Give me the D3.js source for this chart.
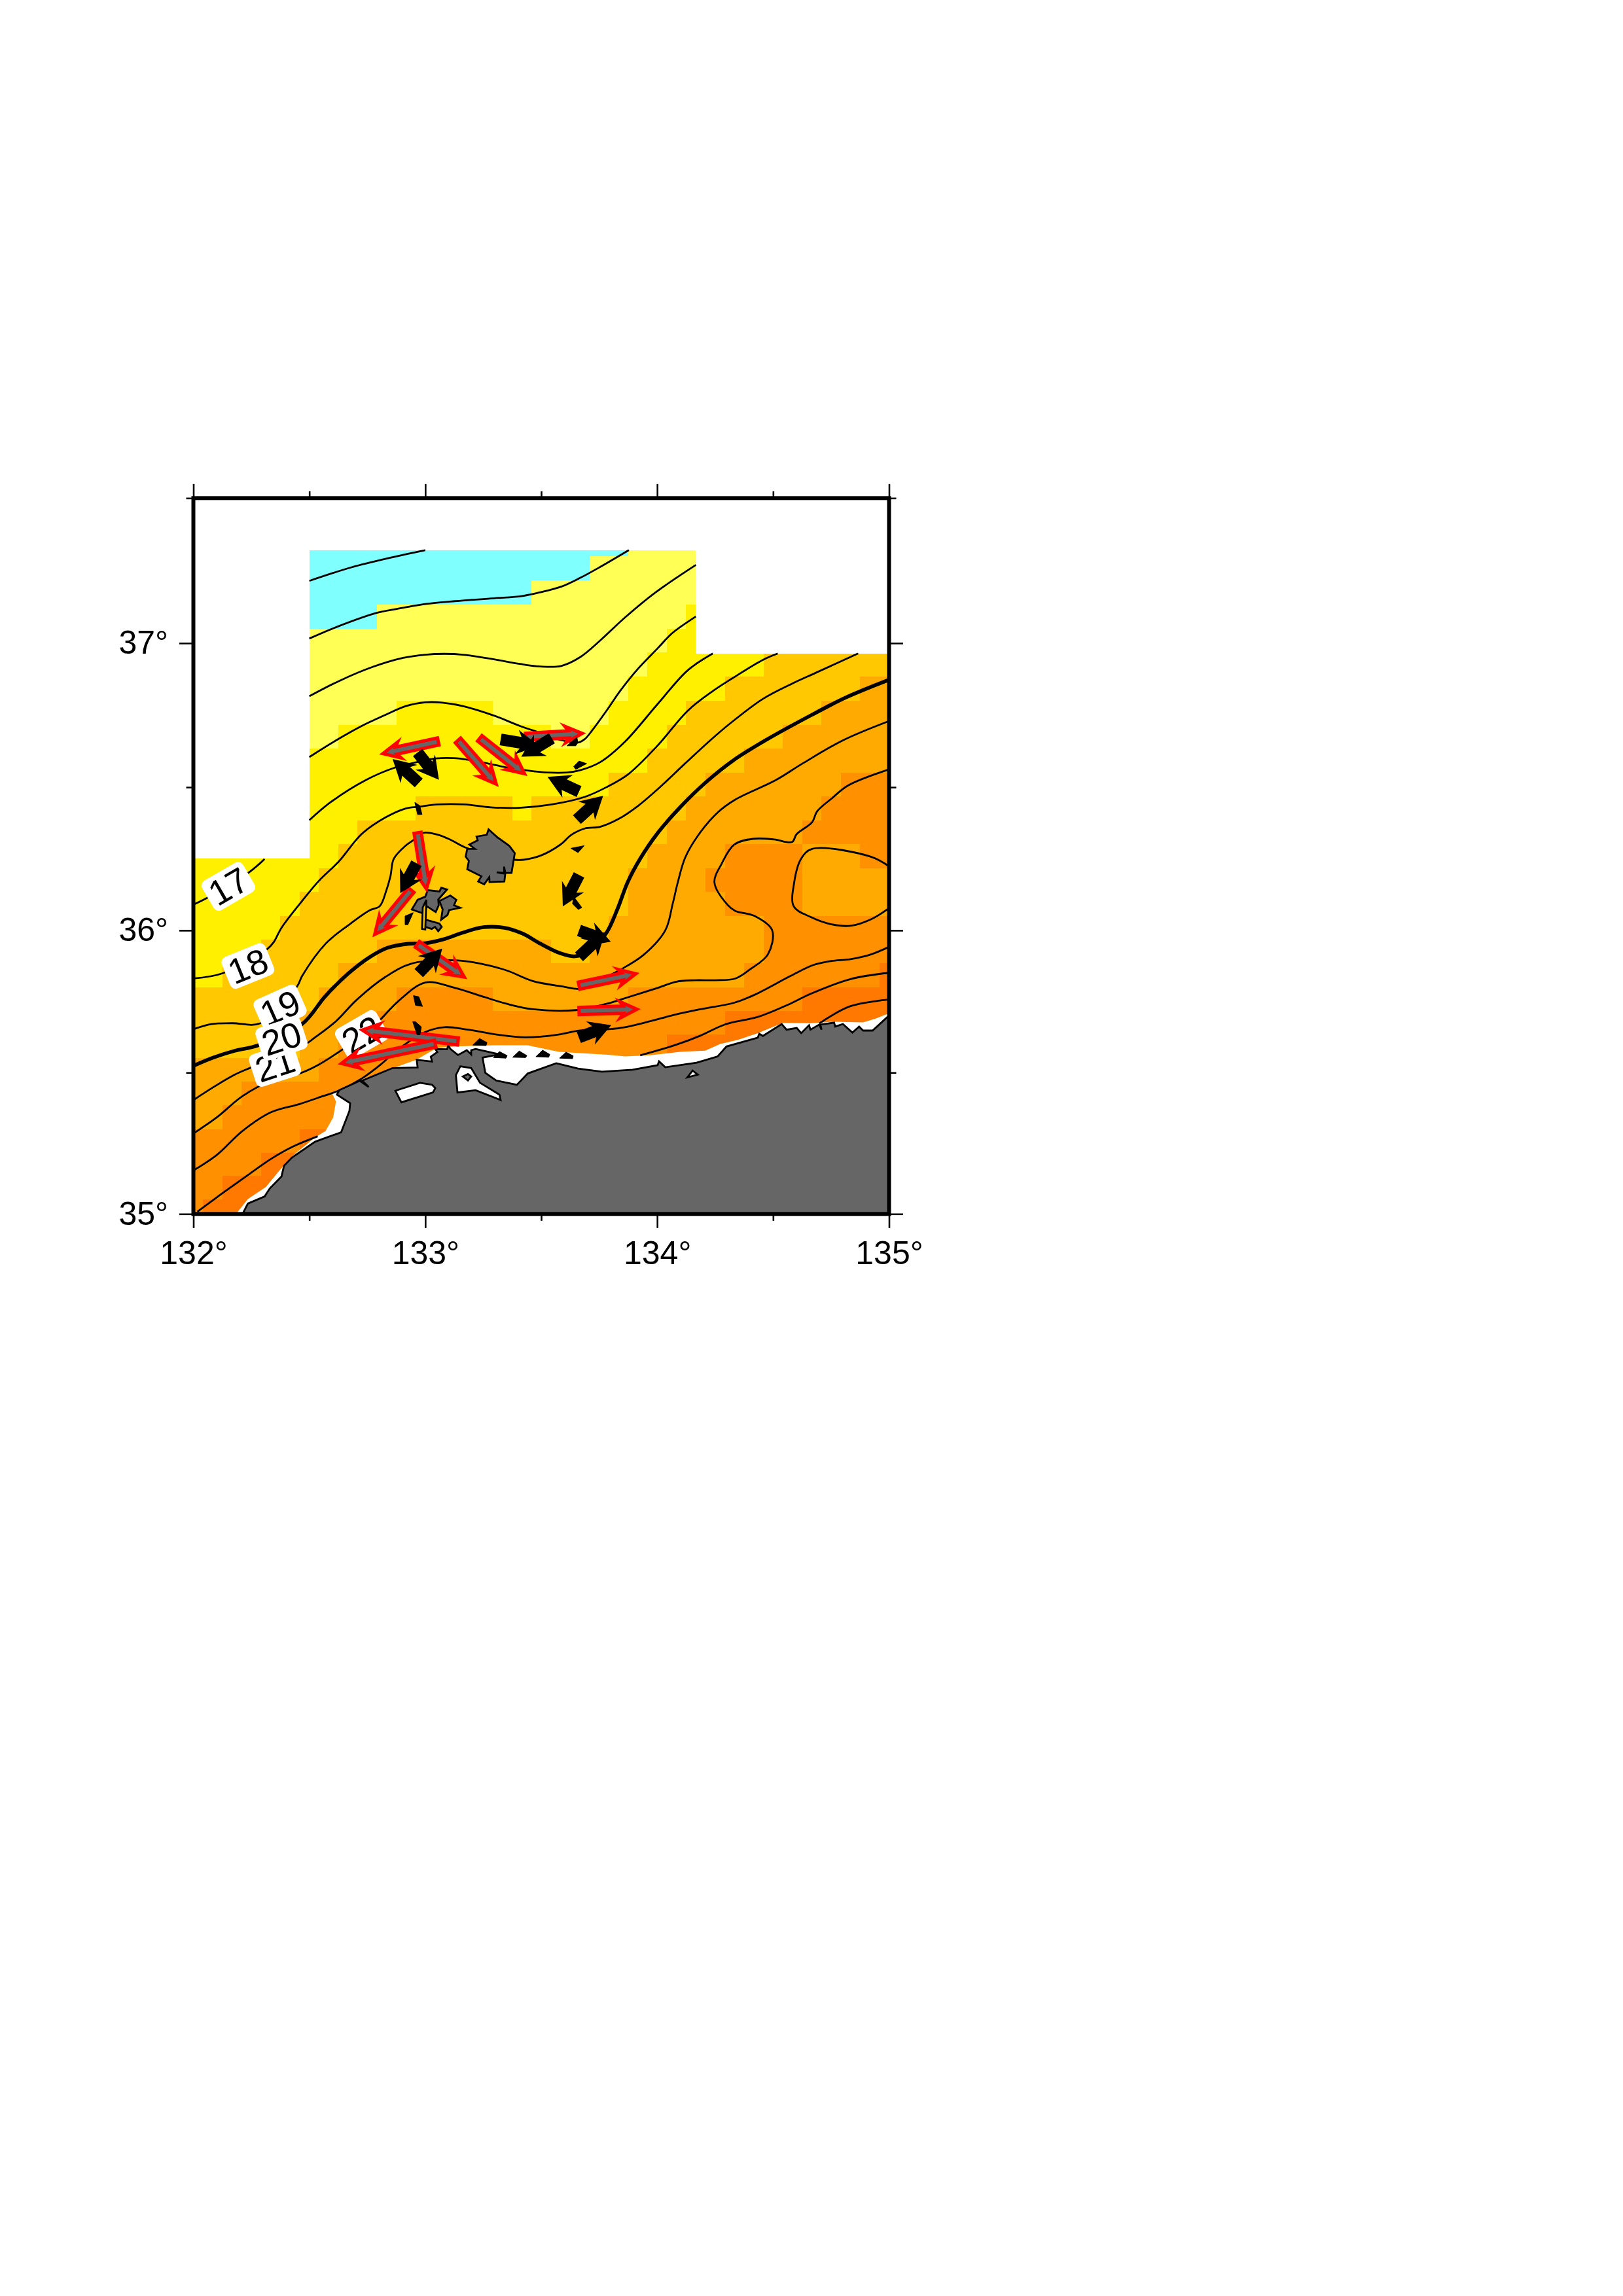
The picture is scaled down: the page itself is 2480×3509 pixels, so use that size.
<!DOCTYPE html>
<html><head><meta charset="utf-8">
<script src="https://cdn.jsdelivr.net/npm/d3@7"></script>
<style>html,body{margin:0;padding:0;background:#fff}svg{display:block}text{font-family:"Liberation Sans",Arial,sans-serif}</style>
</head><body><div id="chart"></div>
<script>
// ---- axis ticks
const lonMajor=[132,133,134,135], lonMinor=[132.5,133.5,134.5];
const latMajor=[35,36,37], latMinor=[35.5,36.5,37.5];
const degLabel=d=>d+"°";

// ---- temperature class colours and 1/12 degree grid (run-length, row 28 at north, row 0 at south)
const classColors={c:"#80FFFF",a:"#FFFF55",b:"#FFF000",d:"#FFC800",e:"#FFAA00",f:"#FF9000",g:"#FF7800",".":"#FFFFFF"};
const gridRows=[
".6c17a14",".6c15a16",".6c12a19",".6c4a16b11",".6a19b12",".6a18b6d7",".6a17b5d7e2",
".6a5b5a6b4d7e4",".6a2b11a2b4d6e6",".6b18d5e8",".6b16d5e7f3",".6b6d5b1d8e7f4",".6b3d16e7f5",
"b8d16e4f4e3f2","b7d16e4f5e5","b6d17e5f4e5","b5d17e8f7","b4d6e9d2e9f7","b2d6e21f7g1",
"d7e4f5e7f9g5","d6e4f18g9","d6e2f17g12","e7f18g12","e3f34","e2f35","f6g31","f4g33","f2g35","f1g36"];

// ---- areas without data
const noData=[[132,36.251,132.5,37.6],[132.5,37.321,135.1,37.6],[134.167,36.964,135.1,37.6]];
const coastMask=[[132.184,35],[132.235,35.053],[132.313,35.096],[132.369,35.152],[132.425,35.204],[132.525,35.271],[132.57,35.294],[132.603,35.342],[132.615,35.398],[132.598,35.427],[132.626,35.436],[132.726,35.476],[132.849,35.512],[132.961,35.545],[133.05,35.587],[133.128,35.592],[133.296,35.596],[133.441,35.596],[133.575,35.573],[133.646,35.57],[133.786,35.563],[133.862,35.557],[133.97,35.561],[134.099,35.573],[134.207,35.577],[134.272,35.601],[134.348,35.615],[134.434,35.639],[134.542,35.675],[134.661,35.674],[134.758,35.679],[134.888,35.677],[134.942,35.69],[134.992,35.706],[135.1,35.72],[135.1,34.9],[132.184,34.9]];

// ---- contours
const c13=[[132.5,37.215],[132.682,37.262],[132.849,37.295],[133,37.321]];
const c14=[[132.5,37.016],[132.615,37.055],[132.793,37.105],[132.905,37.122],[133,37.135],[133.128,37.145],[133.296,37.155],[133.419,37.163],[133.497,37.176],[133.586,37.195],[133.667,37.225],[133.754,37.263],[133.878,37.321]];
const c15=[[132.5,36.816],[132.626,36.868],[132.771,36.917],[132.905,36.949],[133,36.96],[133.084,36.963],[133.162,36.96],[133.296,36.944],[133.408,36.928],[133.497,36.919],[133.586,36.921],[133.667,36.951],[133.754,37.009],[133.862,37.089],[133.991,37.174],[134.167,37.27]];
const c16=[[132.5,36.605],[132.626,36.668],[132.726,36.713],[132.827,36.751],[132.916,36.782],[133,36.795],[133.073,36.794],[133.162,36.782],[133.296,36.749],[133.408,36.713],[133.497,36.689],[133.58,36.665],[133.662,36.656],[133.689,36.668],[133.721,36.699],[133.786,36.771],[133.84,36.834],[133.916,36.91],[134.002,36.982],[134.067,37.036],[134.167,37.092]];
const c17w=[[132,36.09],[132.067,36.117],[132.235,36.2],[132.285,36.233],[132.307,36.25]];
const c17=[[132.5,36.385],[132.592,36.448],[132.746,36.526],[132.868,36.568],[132.962,36.587],[133.047,36.6],[133.122,36.601],[133.188,36.595],[133.273,36.582],[133.357,36.568],[133.433,36.559],[133.527,36.551],[133.611,36.551],[133.668,36.559],[133.754,36.587],[133.862,36.659],[134.002,36.789],[134.132,36.906],[134.24,36.964]];
const c18=[[132,35.831],[132.128,35.85],[132.318,35.934],[132.346,35.958],[132.38,36.009],[132.469,36.103],[132.542,36.174],[132.626,36.24],[132.726,36.337],[132.827,36.394],[132.916,36.426],[132.972,36.432],[133.056,36.44],[133.169,36.44],[133.282,36.43],[133.404,36.428],[133.546,36.44],[133.687,36.466],[133.781,36.5],[133.875,36.545],[134.002,36.645],[134.132,36.766],[134.24,36.834],[134.326,36.879],[134.456,36.942],[134.52,36.964]];
const c19=[[132,35.653],[132.078,35.671],[132.168,35.674],[132.29,35.674],[132.447,35.803],[132.469,35.84],[132.57,35.953],[132.67,36.019],[132.76,36.07],[132.804,36.085],[132.831,36.137],[132.85,36.19],[132.864,36.25],[132.915,36.296],[132.948,36.315],[132.991,36.341],[133.056,36.334],[133.113,36.315],[133.179,36.288],[133.386,36.247],[133.423,36.247],[133.499,36.262],[133.583,36.3],[133.63,36.334],[133.687,36.356],[133.754,36.362],[133.835,36.39],[133.916,36.434],[134.002,36.493],[134.121,36.583],[134.229,36.663],[134.315,36.722],[134.456,36.807],[134.585,36.861],[134.683,36.897],[134.866,36.964]];
const c20=[[132,35.524],[132.089,35.554],[132.179,35.577],[132.279,35.596],[132.469,35.671],[132.57,35.77],[132.67,35.85],[132.76,35.906],[132.838,35.939],[132.927,35.953],[133,35.955],[133.084,35.97],[133.162,35.992],[133.251,36.011],[133.341,36.009],[133.419,35.989],[133.497,35.953],[133.581,35.92],[133.646,35.909],[133.71,35.93],[133.781,35.991],[133.829,36.075],[133.873,36.169],[133.927,36.251],[134.002,36.34],[134.099,36.43],[134.207,36.515],[134.326,36.592],[134.467,36.663],[134.661,36.749],[134.812,36.811],[135,36.873]];
const c21=[[132,35.403],[132.089,35.45],[132.179,35.493],[132.246,35.517],[132.458,35.587],[132.525,35.624],[132.615,35.681],[132.704,35.756],[132.827,35.836],[132.939,35.883],[133.128,35.895],[133.24,35.883],[133.352,35.859],[133.464,35.822],[133.592,35.803],[133.667,35.795],[133.75,35.825],[133.846,35.864],[133.943,35.915],[134.035,36],[134.067,36.093],[134.089,36.168],[134.121,36.255],[134.18,36.336],[134.261,36.412],[134.337,36.457],[134.51,36.524],[134.628,36.583],[134.801,36.663],[135,36.73]];
const c22=[[132,35.285],[132.101,35.342],[132.212,35.417],[132.335,35.471],[132.458,35.497],[132.536,35.526],[132.637,35.578],[132.732,35.634],[132.804,35.685],[132.883,35.751],[133,35.817],[133.128,35.798],[133.24,35.77],[133.352,35.742],[133.464,35.723],[133.651,35.72],[133.781,35.742],[133.873,35.765],[134.002,35.798],[134.083,35.82],[134.164,35.825],[134.251,35.825],[134.337,35.831],[134.402,35.864],[134.477,35.915],[134.496,36],[134.418,36.051],[134.337,36.068],[134.305,36.088],[134.247,36.168],[134.278,36.233],[134.332,36.3],[134.413,36.32],[134.504,36.318],[134.582,36.309],[134.601,36.336],[134.668,36.378],[134.69,36.416],[134.753,36.461],[134.823,36.506],[135,36.562]];
const c22b=[[135,36.224],[134.92,36.258],[134.668,36.285],[134.621,36.251],[134.591,36.168],[134.589,36.084],[134.661,36.047],[134.747,36.022],[134.834,36.016],[134.925,36.04],[135,36.078]];
const c23=[[132,35.154],[132.101,35.209],[132.212,35.294],[132.335,35.36],[132.458,35.389],[132.559,35.417],[132.626,35.436],[132.726,35.479],[132.81,35.53],[132.883,35.582],[133,35.643],[133.084,35.66],[133.184,35.651],[133.307,35.634],[133.43,35.624],[133.575,35.634],[133.662,35.648],[133.792,35.653],[133.862,35.66],[133.97,35.681],[134.078,35.704],[134.186,35.723],[134.332,35.746],[134.423,35.775],[134.575,35.84],[134.672,35.878],[134.747,35.892],[134.834,35.899],[134.92,35.915],[135,35.942]];
const c24w=[[132.017,35.008],[132.123,35.072],[132.235,35.138],[132.335,35.195],[132.425,35.237],[132.536,35.275]];
const c24e=[[133.927,35.561],[134.078,35.597],[134.186,35.63],[134.294,35.67],[134.434,35.696],[134.564,35.739],[134.661,35.777],[134.834,35.829],[135,35.851]];
const c25=[[134.699,35.673],[134.834,35.734],[135,35.757]];
const thinContours=[c13,c14,c15,c16,c17w,c17,c18,c19,c21,c22,c22b,c23,c24w,c24e,c25];
const thickContours=[c20];

// ---- land and islands
const mainland=[[132.212,34.9],[132.212,35],[132.235,35.037],[132.307,35.062],[132.33,35.091],[132.38,35.133],[132.391,35.171],[132.425,35.2],[132.525,35.256],[132.637,35.289],[132.673,35.365],[132.676,35.392],[132.619,35.422],[132.629,35.438],[132.718,35.471],[132.756,35.449],[132.728,35.472],[132.859,35.516],[132.967,35.518],[132.963,35.545],[133.029,35.539],[133.024,35.556],[133.052,35.572],[133.043,35.583],[133.094,35.582],[133.099,35.595],[133.109,35.583],[133.141,35.562],[133.179,35.579],[133.198,35.564],[133.198,35.579],[133.217,35.583],[133.32,35.564],[133.247,35.553],[133.259,35.499],[133.306,35.472],[133.395,35.457],[133.442,35.497],[133.565,35.533],[133.659,35.514],[133.762,35.503],[133.894,35.51],[134.002,35.526],[134.008,35.54],[134.035,35.519],[134.17,35.535],[134.261,35.557],[134.299,35.592],[134.434,35.623],[134.44,35.637],[134.456,35.629],[134.537,35.671],[134.558,35.651],[134.602,35.657],[134.621,35.639],[134.655,35.667],[134.661,35.651],[134.699,35.669],[134.709,35.651],[134.704,35.669],[134.763,35.676],[134.768,35.662],[134.801,35.671],[134.842,35.641],[134.871,35.662],[134.888,35.648],[134.929,35.648],[134.992,35.695],[135.1,35.72],[135.1,34.9]];
const lake1=[[132.871,35.436],[132.977,35.464],[133.029,35.457],[133.043,35.445],[133.033,35.43],[132.897,35.395]];
const lake2=[[133.151,35.522],[133.198,35.516],[133.236,35.464],[133.32,35.422],[133.325,35.403],[133.217,35.438],[133.139,35.43],[133.132,35.491]];
const lake3=[[134.13,35.483],[134.153,35.507],[134.175,35.493]];
const lakeIsle=[[133.162,35.486],[133.184,35.495],[133.198,35.486],[133.184,35.472]];
const dogo=[[133.273,36.353],[133.31,36.326],[133.362,36.296],[133.386,36.27],[133.372,36.201],[133.345,36.201],[133.34,36.223],[133.34,36.201],[133.308,36.203],[133.345,36.198],[133.341,36.171],[133.277,36.169],[133.276,36.186],[133.254,36.161],[133.228,36.171],[133.242,36.189],[133.181,36.214],[133.188,36.243],[133.174,36.258],[133.181,36.285],[133.214,36.285],[133.19,36.3],[133.226,36.315],[133.221,36.328],[133.265,36.334]];
const dozen1=[[133.011,36.141],[133.061,36.136],[133.069,36.149],[133.094,36.143],[133.056,36.108],[133.058,36.088],[133.045,36.064],[133.007,36.084],[132.995,36.058],[132.942,36.073],[132.967,36.107],[133,36.118]];
const dozen2=[[133.061,36.103],[133.108,36.122],[133.134,36.107],[133.124,36.088],[133.151,36.079],[133.103,36.071],[133.096,36.054],[133.068,36.037],[133.075,36.073]];
const dozen3=[[132.995,36.039],[133.061,36.024],[133.071,36.012],[133.056,35.997],[133.042,36.012],[133.028,36.005],[133,36.012]];
const dozenSliver=[[132.989,36.08],[133.005,36.107],[133,36.003],[132.986,36.005]];
const grayIslands=[dogo,dozen1,dozen2,dozen3];

// ---- very short current vectors, seen as small black heads
const tinyHeads=[
[[133.205,35.597],[133.234,35.62],[133.266,35.606],[133.262,35.595]],
[[133.294,35.553],[133.32,35.574],[133.353,35.56],[133.348,35.551]],
[[133.377,35.554],[133.405,35.576],[133.438,35.56],[133.433,35.553]],
[[133.477,35.556],[133.506,35.579],[133.537,35.564],[133.532,35.554]],
[[133.579,35.551],[133.607,35.572],[133.638,35.559],[133.635,35.549]],
[[132.949,35.771],[132.972,35.767],[132.988,35.733],[132.958,35.737]],
[[132.946,35.679],[132.958,35.679],[132.983,35.661],[132.977,35.633],[132.965,35.633]],
[[132.955,36.447],[132.976,36.436],[132.986,36.405],[132.967,36.405]],
[[133.64,36.572],[133.663,36.591],[133.696,36.582],[133.649,36.562]],
[[133.611,36.644],[133.654,36.674],[133.658,36.655],[133.649,36.644]],
[[133.628,36.287],[133.685,36.296],[133.659,36.272]],
[[132.913,36.05],[132.948,36.062],[132.925,36.02],[132.913,36.02]],
[[133.64,36.118],[133.675,36.08],[133.66,36.073],[133.635,36.093]]];

// ---- current vectors [tail lon, tail lat, tip lon, tip lat]
const blackVectors=[
[132.972,36.515,132.859,36.598],[132.967,36.621,133.059,36.526],[133.325,36.666,133.489,36.644],
[133.546,36.67,133.414,36.606],[133.663,36.485,133.527,36.536],[133.654,36.387,133.767,36.47],
[132.962,36.235,132.892,36.13],[133.663,36.194,133.593,36.084],[133.663,36,133.8,35.96],
[133.663,35.907,133.776,35.994],[132.972,35.85,133.073,35.936],[133.662,35.624,133.802,35.667]];
const redVectors=[
[133.056,36.659,132.817,36.617],[133.141,36.663,133.306,36.511],[133.235,36.67,133.428,36.547],
[133.433,36.675,133.677,36.687],[132.967,36.341,133.005,36.145],[132.939,36.141,132.782,35.986],
[132.966,35.951,133.168,35.836],[133.141,35.61,132.728,35.65],[133.043,35.602,132.638,35.532],
[133.663,35.806,133.908,35.848],[133.663,35.717,133.913,35.723]];

// ---- contour labels
const labelTexts=["17","18","19","21","22","20"];
const labelLons=[132.151,132.235,132.374,132.352,132.726,132.38];
const labelLats=[36.154,35.875,35.728,35.527,35.634,35.62];
const labelAngles=[-30,-22,-24,-18,-30,-18];

// ---- scales
const W=2480,H=3509;
const merc=l=>Math.log(Math.tan(Math.PI/4+l*Math.PI/360));
const x=d3.scaleLinear().domain([132,135]).range([295.5,1358.5]);
const yM=d3.scaleLinear().domain([merc(35),merc(37.5)]).range([1855.3,761.3]);
const latKnots=d3.range(34.75,37.76,0.25);
const y=d3.scaleLinear().domain(latKnots).range(latKnots.map(l=>yM(merc(l))));

const svg=d3.select("#chart").append("svg").attr("width",W).attr("height",H).attr("viewBox",`0 0 ${W} ${H}`);
svg.append("rect").attr("width",W).attr("height",H).attr("fill","#fff");
svg.append("clipPath").attr("id","frame").append("rect")
  .attr("x",x(132)).attr("y",y(37.5)).attr("width",x(135)-x(132)).attr("height",y(35)-y(37.5));
const map=svg.append("g").attr("clip-path","url(#frame)");

// raster
const cells=[];
gridRows.forEach((s,i)=>{const row=28-i;let k=0;
  for(const m of s.matchAll(/([a-g.])(\d+)/g)){for(let n=0;n<+m[2];n++,k++)cells.push({row,col:k,c:m[1]});}});
const rowOffset=0.009;
map.append("g").attr("shape-rendering","crispEdges").selectAll("rect").data(cells.filter(d=>d.c!==".")).join("rect")
  .attr("x",d=>x(132+(d.col-.5)/12)).attr("width",d=>x(132+(d.col+.5)/12)-x(132+(d.col-.5)/12))
  .attr("y",d=>y(35+(d.row+.5)/12+rowOffset)).attr("height",d=>y(35+(d.row-.5)/12+rowOffset)-y(35+(d.row+.5)/12+rowOffset))
  .attr("fill",d=>classColors[d.c]);
map.append("g").attr("shape-rendering","crispEdges").selectAll("rect").data(noData).join("rect")
  .attr("x",d=>x(d[0])).attr("y",d=>y(d[3])).attr("width",d=>x(d[2])-x(d[0])).attr("height",d=>y(d[1])-y(d[3])).attr("fill","#fff");
const poly=d3.line().x(d=>x(d[0])).y(d=>y(d[1])).curve(d3.curveLinearClosed);
const smooth=d3.line().x(d=>x(d[0])).y(d=>y(d[1])).curve(d3.curveCatmullRom.alpha(.5));
map.append("path").attr("d",poly(coastMask)).attr("fill","#fff");

// contours
map.append("g").selectAll("path").data(thinContours).join("path").attr("d",smooth).attr("fill","none").attr("stroke","#000").attr("stroke-width",2.8);
map.append("g").selectAll("path").data(thickContours).join("path").attr("d",smooth).attr("fill","none").attr("stroke","#000").attr("stroke-width",5.6);

// land
const land=map.append("g").attr("stroke","#000").attr("stroke-width",2.8).attr("stroke-linejoin","miter");
land.append("path").attr("d",poly(mainland)).attr("fill","#666");
land.selectAll(".lake").data([lake1,lake2,lake3]).join("path").attr("class","lake").attr("d",poly).attr("fill","#fff");
land.append("path").attr("d",poly(lakeIsle)).attr("fill","#666");
land.selectAll(".isl").data(grayIslands).join("path").attr("class","isl").attr("d",poly).attr("fill","#666");
land.append("path").attr("d",poly(dozenSliver)).attr("fill","#FFC800");

// labels
const labels=map.append("g").selectAll("g").data(labelTexts).join("g")
  .attr("transform",(d,i)=>`translate(${x(labelLons[i])},${y(labelLats[i])}) rotate(${labelAngles[i]})`);
labels.append("rect").attr("x",-36).attr("y",-26).attr("width",72).attr("height",52).attr("rx",9).attr("fill","#fff");
labels.append("text").text(d=>d).attr("text-anchor","middle").attr("y",19).attr("font-size",54).attr("fill","#000");

// vectors
function arrow(v,hw,headW,headL,back){
  const x0=x(v[0]),y0=y(v[1]),x1=x(v[2]),y1=y(v[3]);
  const L=Math.hypot(x1-x0,y1-y0),a=Math.atan2(y1-y0,x1-x0),c=Math.cos(a),s=Math.sin(a);
  const p=(u,w)=>[x0+u*c-w*s,y0+u*s+w*c];
  return "M"+[p(0,-hw),p(L-headL+back,-hw),p(L-headL,-headW),p(L,0),p(L-headL,headW),p(L-headL+back,hw),p(0,hw)].map(q=>q.map(n=>n.toFixed(1)).join(",")).join("L")+"Z";
}
map.append("g").selectAll("path").data(redVectors).join("path").attr("d",v=>arrow(v,5.5,12.5,26,5))
  .attr("fill","#666").attr("stroke","#FF0000").attr("stroke-width",5).attr("stroke-linejoin","miter").attr("stroke-miterlimit",6);
map.append("g").selectAll("path").data(blackVectors).join("path").attr("d",v=>arrow(v,9,19,34,6)).attr("fill","#000");
map.append("g").selectAll("path").data(tinyHeads).join("path").attr("d",poly).attr("fill","#000").attr("stroke","#000").attr("stroke-width",1);

// frame and axes
svg.append("rect").attr("x",x(132)).attr("y",y(37.5)).attr("width",x(135)-x(132)).attr("height",y(35)-y(37.5))
  .attr("fill","none").attr("stroke","#000").attr("stroke-width",6);
const axes=svg.append("g");
function addAxis(gen,tx,ty,fmt,size,pad,vals){
  const g=axes.append("g").attr("transform",`translate(${tx},${ty})`)
    .call(gen.tickValues(vals).tickSize(size).tickPadding(pad).tickFormat(fmt));
  g.select(".domain").remove();
  g.selectAll("line").attr("stroke","#000").attr("stroke-width",2.6);
  g.selectAll("text").attr("font-size",50).attr("font-family","Liberation Sans").attr("fill","#000");
}
addAxis(d3.axisBottom(x),0,y(35),degLabel,21.5,19.5,lonMajor);
addAxis(d3.axisBottom(x),0,y(35),"",10.5,0,lonMinor);
addAxis(d3.axisTop(x),0,y(37.5),"",21.5,0,lonMajor);
addAxis(d3.axisTop(x),0,y(37.5),"",10.5,0,lonMinor);
addAxis(d3.axisLeft(y),x(132),0,degLabel,21.5,17,latMajor);
addAxis(d3.axisLeft(y),x(132),0,"",11,0,latMinor);
addAxis(d3.axisRight(y),x(135),0,"",21.5,0,latMajor);
addAxis(d3.axisRight(y),x(135),0,"",11,0,latMinor);
</script></body></html>
